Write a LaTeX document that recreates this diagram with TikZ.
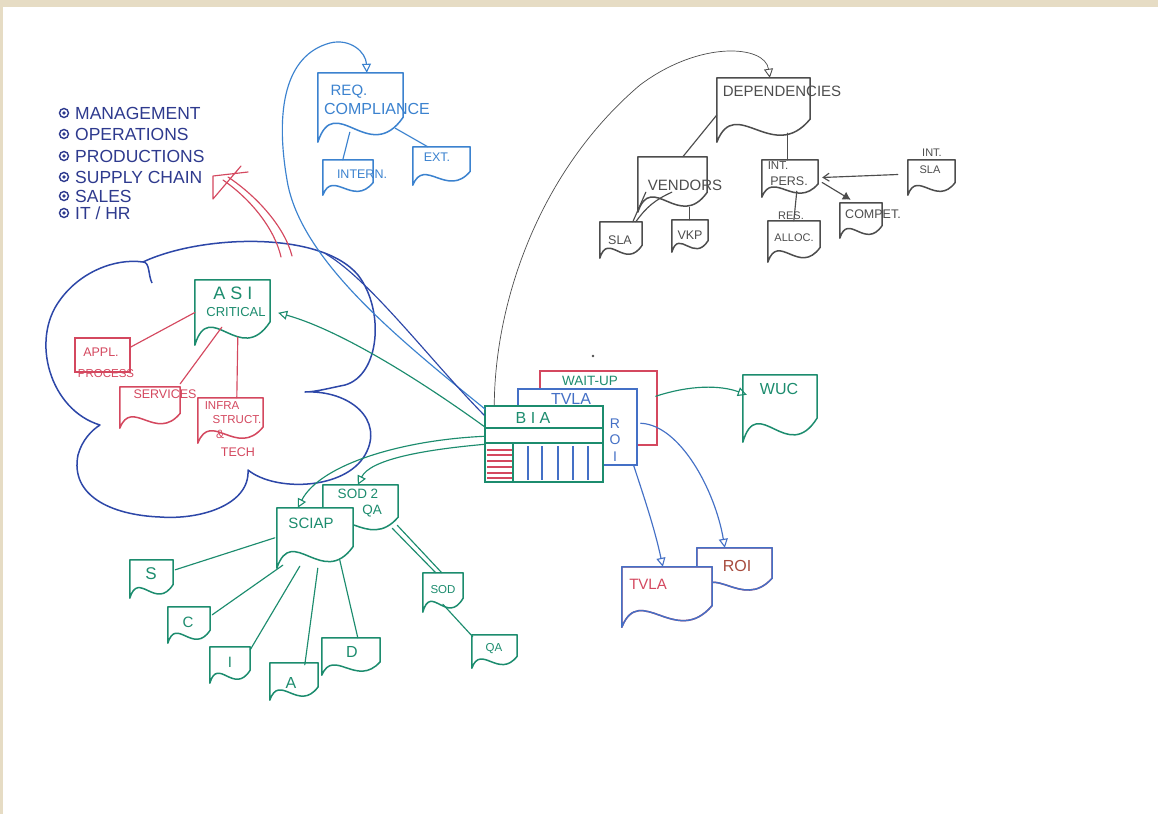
\documentclass[tikz,border=0pt]{standalone}
\usepackage{fontspec}
\setmainfont{Liberation Sans}
\usetikzlibrary{arrows.meta,calc,fit}

\definecolor{beige}{HTML}{E6DCC4}
\definecolor{navy}{HTML}{2E3A8E}
\definecolor{cloudblue}{HTML}{2D47A8}
\definecolor{reqblue}{HTML}{3B82CF}
\definecolor{depgray}{HTML}{4D4D4D}
\definecolor{skgreen}{HTML}{1C8C6E}
\definecolor{skred}{HTML}{D4485F}
\definecolor{tvblue}{HTML}{4470C6}
\definecolor{roibrown}{HTML}{A64A3C}

\tikzset{
  lbl/.style={inner sep=0pt, font=\fontsize{#1}{#1}\selectfont},
  docline/.style={line width=1.5pt, line join=round, line cap=round, fill=white},
  wire/.style={line width=1.15pt, line cap=round},
  opentip/.style={-{Triangle[open,length=9pt,width=9pt,line width=1.1pt]}},
  bullet/.style={circle, draw=navy, line width=1.4pt, minimum size=9pt, inner sep=0pt,
    path picture={\fill[navy] (path picture bounding box.center) circle (1.8pt);}},
  plainbox/.style={inner sep=0pt, line width=1.5pt, fill=white},
}

% document symbol: straight top and sides, wavy bottom edge
\newcommand\docpath[2]{%
  \draw[docline,#2] let \p1=(#1.north west), \p2=(#1.south east),
      \n1={\x2-\x1}, \n2={\y1-\y2} in
    (\x1,\y2) -- (\x1,\y1) -- (\x2,\y1) -- (\x2,{\y2+0.36*\n2})
    .. controls ({\x1+0.6*\n1},{\y2-0.35*\n2}) and ({\x1+0.2*\n1},{\y2+0.75*\n2}) .. (\x1,\y2) -- cycle;}
\newcommand\docbox[6]{%
  \node[fit={(#3,#4)(#5,#6)}, inner sep=0pt] (#1) {};
  \docpath{#1}{draw=#2}}

\begin{document}
\begin{tikzpicture}[x=1pt,y=-1pt]
\useasboundingbox (0,0) rectangle (1158,814);
\fill[white] (0,0) rectangle (1158,814);
\fill[beige] (0,0) rectangle (1158,7);
\fill[beige] (0,0) rectangle (3,814);

% ---------- department list ----------
\node[bullet] (b1) at (64,113) {};
\node[lbl=17.5, text=navy, anchor=west] (li1) at (75,113) {MANAGEMENT};
\node[bullet] (b2) at (64,134) {};
\node[lbl=17.5, text=navy, anchor=west] (li2) at (75,134) {OPERATIONS};
\node[bullet] (b3) at (64,156) {};
\node[lbl=17.5, text=navy, anchor=west] (li3) at (75,156) {PRODUCTIONS};
\node[bullet] (b4) at (64,177) {};
\node[lbl=17.5, text=navy, anchor=west] (li4) at (75,177) {SUPPLY CHAIN};
\node[bullet] (b5) at (64,196) {};
\node[lbl=17.5, text=navy, anchor=west] (li5) at (75,196) {SALES};
\node[bullet] (b6) at (64,213) {};
\node[lbl=17.5, text=navy, anchor=west] (li6) at (75,213) {IT / HR};

% ---------- cloud ----------
\draw[cloudblue, line width=1.5pt, line join=round]
  (143,262) .. controls (200,235) and (320,230) .. (358,275)
  .. controls (385,310) and (380,375) .. (345,385)
  .. controls (330,388) and (315,392) .. (305,392)
  .. controls (350,390) and (385,420) .. (365,455)
  .. controls (345,490) and (275,492) .. (248,470)
  .. controls (250,505) and (200,520) .. (160,517)
  .. controls (110,515) and (70,495) .. (78,455)
  .. controls (82,440) and (92,430) .. (100,425)
  .. controls (50,410) and (30,340) .. (60,300)
  .. controls (80,272) and (115,258) .. (143,262) -- cycle;
\draw[cloudblue, line width=1.5pt] (143,262) .. controls (150,262) and (148,275) .. (152,283);
\coordinate (cloudjoin) at (326,254);
\coordinate (redA) at (281,257);
\coordinate (redB) at (292,256);
\coordinate (redtipA) at (223,180);
\coordinate (redtipB) at (228,177);

% ---------- requirement compliance ----------
\docbox{req}{reqblue}{318}{73}{403}{142}
\docbox{intern}{reqblue}{323}{160}{373}{195}
\docbox{ext}{reqblue}{413}{147}{470}{185}

% ---------- dependencies ----------
\docbox{dep}{depgray}{717}{78}{810}{142}
\docbox{vend}{depgray}{638}{157}{707}{212}
\docbox{intp}{depgray}{762}{160}{818}{197}
\docbox{intsla}{depgray}{908}{160}{955}{195}
\docbox{compet}{depgray}{840}{203}{882}{238}
\docbox{sla}{depgray}{600}{222}{642}{258}
\docbox{vkp}{depgray}{672}{220}{708}{252}
\docbox{resal}{depgray}{768}{221}{820}{262}

% ---------- critical assets ----------
\docbox{asi}{skgreen}{195}{280}{270}{345}
\node[plainbox, draw=skred, fill=none, fit={(75,338)(130,372)}] (appl) {};
\docbox{serv}{skred}{120}{387}{180}{428}
\docbox{infra}{skred}{198}{398}{263}{443}

% ---------- BIA stack ----------
\node[plainbox, draw=skred, fit={(540,371)(657,445)}] (wait) {};
\node[plainbox, draw=tvblue, fit={(518,389)(637,465)}] (tvla) {};
\node[plainbox, draw=skgreen, fit={(485,406)(603,482)}] (bia) {};
\draw[skgreen, line width=1.5pt] (485,428) -- (603,428) (485,443) -- (603,443) (513,443) -- (513,482);
\foreach \y in {450,455,461,467,473,478} \draw[skred, line width=1.1pt] (487,\y) -- (512,\y);
\foreach \x in {528,542,558,573,588} \draw[tvblue, line width=1.3pt] (\x,446) -- (\x,480);
\docbox{wuc}{skgreen}{743}{375}{817}{442}

% ---------- TVLA / ROI documents ----------
\node[fit={(697,548)(772,595)}, inner sep=0pt] (roid) {};
\docpath{roid}{draw=skred, shift={(-1.5,1.5)}}
\docpath{roid}{draw=tvblue, fill=none}
\node[fit={(622,567)(712,627)}, inner sep=0pt] (tvlad) {};
\docpath{tvlad}{draw=skred, shift={(-1.5,1.5)}}
\docpath{tvlad}{draw=tvblue, fill=none}

% ---------- SCIAP ----------
\docbox{sod2}{skgreen}{323}{485}{398}{535}
\docbox{sciap}{skgreen}{277}{508}{353}{568}
\docbox{s}{skgreen}{130}{560}{173}{598}
\docbox{c}{skgreen}{168}{607}{210}{643}
\docbox{i}{skgreen}{210}{647}{250}{683}
\docbox{a}{skgreen}{270}{663}{318}{700}
\docbox{d}{skgreen}{322}{638}{380}{675}
\docbox{sod}{skgreen}{423}{573}{463}{612}
\docbox{qa}{skgreen}{472}{635}{517}{668}

% ---------- connectors ----------
% requirement compliance
\draw[wire, reqblue] ([shift={(32,-10)}]req.south west) -- ([shift={(20,0)}]intern.north west);
\draw[wire, reqblue] ([shift={(-8,-14)}]req.south east) -- ([shift={(15,0)}]ext.north west);
\draw[wire, reqblue, opentip] ([shift={(1,4)}]bia.north west)
  .. controls (400,340) and (300,260) .. (287,180)
  .. controls (275,110) and (285,55) .. (330,43)
  .. controls (350,38) and (366,52) .. ([shift={(49,0)}]req.north west);
\draw[wire, cloudblue] ([shift={(0,10)}]bia.north west) .. controls (430,360) and (370,280) .. (cloudjoin);

% dependencies
\draw[line width=0.7pt, depgray, -{Triangle[open,length=9pt,width=9pt,line width=0.9pt]}]
  ([shift={(10,0)}]bia.north west) .. controls (495,300) and (540,170) .. (640,85)
  .. controls (700,40) and (765,45) .. ([shift={(53,0)}]dep.north west);
\draw[wire, depgray] ([shift={(0,5)}]dep.west) -- ([shift={(45,0)}]vend.north west);
\draw[wire, depgray] ([shift={(71,-9)}]dep.south west) -- ([shift={(26,0)}]intp.north west);
\draw[wire, depgray, -{Straight Barb[length=6pt,width=8pt]}] ([shift={(-10,-3)}]intsla.west) -- ([shift={(4,-1)}]intp.east);
\draw[wire, depgray, -{Latex[length=8pt,width=9pt]}] ([shift={(4,4)}]intp.east) -- ([shift={(11,-3)}]compet.north west);
\draw[wire, depgray] ([shift={(8,-20)}]vend.south west) -- ([shift={(33,0)}]sla.north west);
\draw[wire, depgray] ([shift={(34,-20)}]vend.south west) to[bend right=15] ([shift={(36,0)}]sla.north west);
\draw[wire, depgray] ([shift={(52,-5)}]vend.south west) -- ([shift={(18,0)}]vkp.north west);
\draw[wire, depgray] ([shift={(35,-6)}]intp.south west) -- ([shift={(26,0)}]resal.north west);

% critical assets
\draw[wire, skgreen, opentip] ([shift={(1,22)}]bia.north west) .. controls (420,380) and (340,330) .. ([shift={(8,33)}]asi.north east);
\draw[wire, skred] (asi.west) -- ([shift={(0,-8)}]appl.east);
\draw[wire, skred] ([shift={(27,-18)}]asi.south west) -- ([shift={(0,-3)}]serv.north east);
\draw[wire, skred] ([shift={(43,-8)}]asi.south west) -- ([shift={(39,0)}]infra.north west);
\draw[wire, skred] (redA) .. controls (275,230) and (252,200) .. (redtipA);
\draw[wire, skred] (redB) .. controls (285,228) and (258,197) .. (redtipB);
\draw[wire, skred, line join=round] (248,172) -- (213,176) -- (213,199) -- (241,166);

% BIA stack outputs
\draw[wire, skgreen, opentip] ([shift={(-2,26)}]wait.north east) .. controls (690,385) and (720,385) .. ([shift={(4,20)}]wuc.north west);
\draw[wire, tvblue, opentip] ([shift={(-4,0)}]tvla.south east) .. controls (645,500) and (655,530) .. ([shift={(41,0)}]tvlad.north west);
\draw[wire, tvblue, opentip] ([shift={(3,35)}]tvla.north east) .. controls (680,425) and (715,490) .. ([shift={(28,0)}]roid.north west);

% SCIAP
\draw[wire, skgreen, opentip] ([shift={(1,31)}]bia.north west) .. controls (400,440) and (320,465) .. ([shift={(21,0)}]sciap.north west);
\draw[wire, skgreen, opentip] ([shift={(1,39)}]bia.north west) .. controls (420,450) and (370,460) .. ([shift={(35,0)}]sod2.north west);
\draw[wire, skgreen] ([shift={(-2,30)}]sciap.north west) -- ([shift={(2,10)}]s.north east);
\draw[wire, skgreen] ([shift={(6,-3)}]sciap.south west) -- ([shift={(2,8)}]c.north east);
\draw[wire, skgreen] ([shift={(23,-2)}]sciap.south west) -- ([shift={(0,3)}]i.north east);
\draw[wire, skgreen] ([shift={(41,0)}]sciap.south west) -- ([shift={(35,2)}]a.north west);
\draw[wire, skgreen] ([shift={(63,-8)}]sciap.south west) -- ([shift={(36,0)}]d.north west);
\draw[wire, skgreen] ([shift={(-6,-7)}]sod2.south east) -- ([shift={(13,0)}]sod.north west);
\draw[wire, skgreen] ([shift={(-1,-10)}]sod2.south east) -- ([shift={(19,0)}]sod.north west);
\draw[wire, skgreen] ([shift={(20,-8)}]sod.south west) -- ([shift={(1,2)}]qa.north west);

\fill[depgray] (593,356) circle (1.3pt);

% ---------- labels ----------
\node[lbl=15, text=reqblue] (t-req1) at (349,92) {REQ.};
\node[lbl=16, text=reqblue] (t-req2) at (377,109) {COMPLIANCE};
\node[lbl=12.5, text=reqblue] (t-intern) at (362,174) {INTERN.};
\node[lbl=12.5, text=reqblue] (t-ext) at (437,157) {EXT.};

\node[lbl=15, text=depgray] (t-dep) at (782,91) {DEPENDENCIES};
\node[lbl=15, text=depgray] (t-vend) at (685,185) {VENDORS};
\node[lbl=11.5, text=depgray] (t-int1) at (778,166) {INT.};
\node[lbl=12.5, text=depgray] (t-pers) at (789,181) {PERS.};
\node[lbl=11, text=depgray] (t-int2) at (932,153) {INT.};
\node[lbl=11, text=depgray] (t-isla) at (930,170) {SLA};
\node[lbl=12.5, text=depgray] (t-compet) at (873,214) {COMPET.};
\node[lbl=12.5, text=depgray] (t-sla) at (620,240) {SLA};
\node[lbl=12.5, text=depgray] (t-vkp) at (690,235) {VKP};
\node[lbl=11, text=depgray] (t-res) at (791,216) {RES.};
\node[lbl=11, text=depgray] (t-alloc) at (794,238) {ALLOC.};

\node[lbl=18, text=skgreen] (t-asi) at (233,293) {A S I};
\node[lbl=13, text=skgreen] (t-crit) at (236,312) {CRITICAL};
\node[lbl=12.5, text=skred] (t-appl) at (101,352) {APPL.};
\node[lbl=11.5, text=skred] (t-proc) at (106,374) {PROCESS};
\node[lbl=12.5, text=skred] (t-serv) at (165,394) {SERVICES};
\node[lbl=11.5, text=skred] (t-infra) at (222,406) {INFRA};
\node[lbl=11.5, text=skred] (t-struct) at (237,420) {STRUCT.};
\node[lbl=12, text=skred] (t-amp) at (220,434) {\&};
\node[lbl=12.5, text=skred] (t-tech) at (238,452) {TECH};

\node[lbl=13.5, text=skgreen] (t-wait) at (590,381) {WAIT-UP};
\node[lbl=16, text=tvblue] (t-tvla) at (571,399) {TVLA};
\node[lbl=16, text=skgreen] (t-bia) at (533,418) {B I A};
\node[lbl=14, text=tvblue, font=\fontsize{14}{16.5}\selectfont, align=center] (t-roi) at (615,440) {R\\O\\I};
\node[lbl=16, text=skgreen] (t-wuc) at (779,389) {WUC};
\node[lbl=15, text=skred] (t-tvlad) at (648,584) {TVLA};
\node[lbl=16, text=roibrown] (t-roid) at (737,566) {ROI};

\node[lbl=15, text=skgreen] (t-sciap) at (311,523) {SCIAP};
\node[lbl=13.5, text=skgreen] (t-sod2) at (358,494) {SOD 2};
\node[lbl=13.5, text=skgreen] (t-qa2) at (372,511) {QA};
\node[lbl=17, text=skgreen] (t-s) at (151,574) {S};
\node[lbl=15, text=skgreen] (t-c) at (188,622) {C};
\node[lbl=15, text=skgreen] (t-i) at (230,662) {I};
\node[lbl=16, text=skgreen] (t-a) at (291,683) {A};
\node[lbl=16, text=skgreen] (t-d) at (352,652) {D};
\node[lbl=11.5, text=skgreen] (t-sod) at (443,590) {SOD};
\node[lbl=11.5, text=skgreen] (t-qa) at (494,649) {QA};
\end{tikzpicture}
\end{document}
